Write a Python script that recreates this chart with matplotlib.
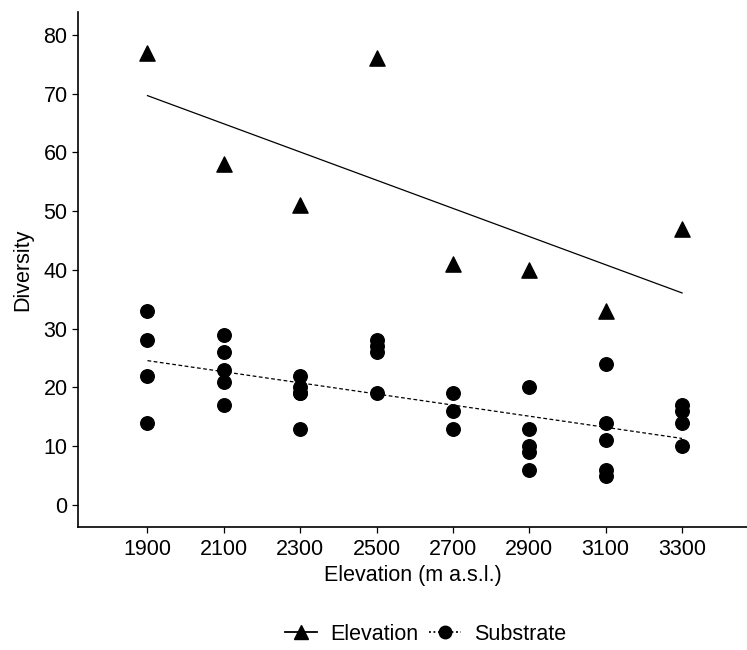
import numpy as np
import matplotlib

matplotlib.use("Agg")
import matplotlib.pyplot as plt
from matplotlib.lines import Line2D

plt.rcParams["font.family"] = ["Liberation Sans", "DejaVu Sans"]

ELEVATIONS = [1900, 2100, 2300, 2500, 2700, 2900, 3100, 3300]
elev_diversity = [77, 58, 51, 76, 41, 40, 33, 47]

sub_elev = (
    [1900] * 4 + [2100] * 5 + [2300] * 5 + [2500] * 4
    + [2700] * 3 + [2900] * 5 + [3100] * 5 + [3300] * 4
)
sub_diversity = [
    33, 28, 22, 14,
    29, 26, 23, 21, 17,
    22, 20, 19, 19, 13,
    28, 27, 26, 19,
    19, 16, 13,
    20, 13, 10, 9, 6,
    24, 14, 11, 6, 5,
    17, 16, 14, 10,
]

fig = plt.figure(figsize=(7.47, 6.5), dpi=100)
ax = fig.add_axes([78 / 747, 1 - 527 / 650, 669 / 747, 515 / 650])

x_line = np.array([ELEVATIONS[0], ELEVATIONS[-1]], dtype=float)

# elevation series + linear fit
ax.scatter(ELEVATIONS, elev_diversity, marker="^", s=120, color="black",
           zorder=3)
b1, a1 = np.polyfit(ELEVATIONS, elev_diversity, 1)
ax.plot(x_line, a1 + b1 * x_line, color="black", lw=0.9, ls="-")

# substrate series + linear fit
ax.scatter(sub_elev, sub_diversity, marker="o", s=95, color="black",
           zorder=3)
b2, a2 = np.polyfit(sub_elev, sub_diversity, 1)
ax.plot(x_line, a2 + b2 * x_line, color="black", lw=0.9, ls=(0, (3, 2)))

ax.set_xlim(1718, 3470)
ax.set_ylim(-3.75, 83.9)
ax.set_xticks(ELEVATIONS)
ax.set_yticks(range(0, 81, 10))
ax.tick_params(labelsize=15.5, length=4, width=0.9, colors="black",
               labelcolor="black")
ax.tick_params(axis="x", pad=4.5)
for side in ("top", "right"):
    ax.spines[side].set_visible(False)
for side in ("left", "bottom"):
    ax.spines[side].set_linewidth(1.2)

ax.set_xlabel("Elevation (m a.s.l.)", fontsize=15.5, labelpad=4)
ax.set_ylabel("Diversity", fontsize=15.5, labelpad=7)

handles = [
    Line2D([], [], color="black", lw=1.3, ls="-", marker="^", markersize=10),
    Line2D([], [], color="black", lw=1.3, ls=(0, (1, 1.5)), marker="o",
           markersize=9),
]
fig.legend(handles, ["Elevation", "Substrate"], loc="center",
           bbox_to_anchor=(0.57, 1 - 634 / 650), ncol=2, frameon=False,
           fontsize=15.5, handlelength=1.5, handletextpad=0.6,
           columnspacing=0.5)

fig.savefig("out.png", dpi=100)
